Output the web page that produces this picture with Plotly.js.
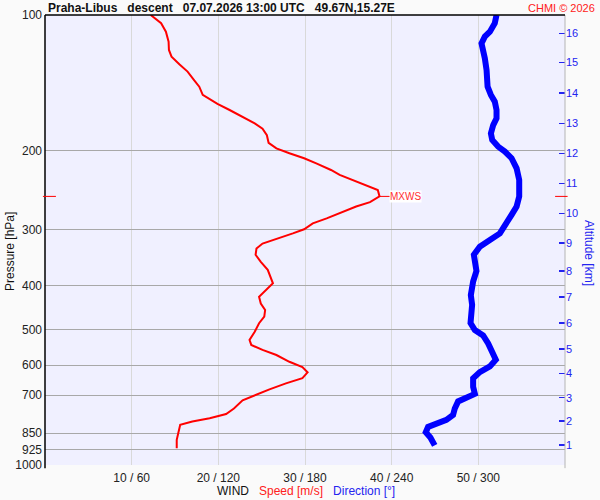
<!DOCTYPE html>
<html>
<head>
<meta charset="utf-8">
<script src="https://cdn.plot.ly/plotly-3.0.1.min.js"></script>
<style>html,body{margin:0;padding:0;background:#fafafa;}</style>
</head>
<body>
<div id="chart" style="width:600px;height:500px;"></div>
<script>
// Wind speed profile [m/s] vs pressure [hPa]
const speedPressure = [100,104.3,108.9,114.6,119.6,123.8,128.7,133.6,139.5,144.3,150.5,153.9,157.6,162.6,168.4,174.2,178.9,185.0,192.3,197.9,202.9,208.1,213.7,221.0,226.7,232.6,238.6,244.8,253.0,260.5,266.4,273.8,283.1,290.5,299.3,305.7,313.8,322.0,330.3,341.1,353.5,368.4,394.6,408.5,422.8,437.8,452.6,467.9,484.1,505.5,527.3,541,555,569.6,589.7,605.8,622.5,641.4,658.6,679.0,698.2,718.3,749.0,770.4,787.1,800.7,814.2,849.5,879.1,917.3];
const speed = [12.2,13.4,13.95,14.26,14.3,14.6,15.5,16.45,17.2,17.8,18.2,18.96,19.9,21.3,22.8,24.2,25.1,25.6,25.8,26.7,28.2,29.9,31.3,33.0,34.0,35.5,37.1,38.4,38.6,37.5,35.9,34.4,32.5,30.9,29.9,28.6,26.7,25.1,24.4,24.3,24.9,25.7,26.3,25.5,24.7,24.9,25.4,25.3,24.7,24.2,23.6,23.8,25.1,26.7,28.2,29.7,30.3,29.7,27.8,25.9,24.4,22.8,21.8,20.9,19.0,17.0,15.6,15.4,15.2,15.2];

// Wind direction profile [deg] vs pressure [hPa]
const dirPressure = [100,104.3,108.9,111.7,115.6,120.6,124.8,132.5,144.3,150.5,155.8,162.6,169.7,175.6,183.2,189.5,196.1,201.2,208.1,219.1,232.6,253.0,266.4,278.0,290.5,305.7,316.2,327.3,341.1,355.4,370.6,391.0,419.3,440.8,459.5,483.7,501.2,515.2,536.9,559.4,583.5,603.9,621.8,641.6,670.3,694.9,711.0,722.2,749.0,774.3,794.0,808.6,823.0,845.4,869.1,904.6];
const direction = [312.6,311.4,308.0,304.5,302.2,302.9,304.5,305.7,306.4,308.7,311.4,312.6,312.6,310.3,308.7,309.6,313.7,318.4,323.0,326.5,328.3,328.3,326.5,323.0,319.5,314.9,308.0,301.0,296.9,297.6,298.7,296.4,294.8,295.7,295.3,294.6,297.6,303.3,306.8,309.1,312.1,308.0,301.0,296.4,296.4,297.6,291.8,286.0,283.7,282.5,277.9,271.0,265.2,263.6,266.8,269.8];

// Axis ticks
const speedTicks = [10,20,30,40,50];
const dirTicks = [60,120,180,240,300];
const pressureTicks = [100,200,300,400,500,600,700,850,925,1000];
const altitudeKm = [1,2,3,4,5,6,7,8,9,10,11,12,13,14,15,16];
const altitudePressure = [902.9,798.4,708.6,626.1,552.4,483.1,423.3,370.7,321.1,276.1,236.6,202.9,174.1,149.0,127.6,109.9];

const titleText = "Praha-Libus\u00a0\u00a0\u00a0descent\u00a0\u00a0\u00a007.07.2026 13:00 UTC\u00a0\u00a0\u00a049.67N,15.27E";

const FONT = "Liberation Sans, Arial, sans-serif";
const BLUE_TXT = "#2424f0";
const RED_TXT = "#ff2020";

// max wind
let iMax = 0;
speed.forEach((v, i) => { if (v > speed[iMax]) iMax = i; });
const maxSpeed = speed[iMax];
const maxP = speedPressure[iMax];

const traces = [
  {x: speed, y: speedPressure, type: 'scatter', mode: 'lines', xaxis: 'x', yaxis: 'y',
   line: {color: '#ff0000', width: 2}, hoverinfo: 'skip'},
  {x: direction, y: dirPressure, type: 'scatter', mode: 'lines', xaxis: 'x2', yaxis: 'y2',
   line: {color: '#0000ff', width: 6}, hoverinfo: 'skip'}
];

const layout = {
  width: 600, height: 500,
  margin: {l: 45, r: 35, t: 15, b: 35, pad: 0},
  paper_bgcolor: '#fafafa',
  plot_bgcolor: '#f0f0ff',
  showlegend: false,
  font: {family: FONT, size: 12, color: '#222'},
  title: {text: titleText, xref: 'container', yref: 'container', x: 48/600, xanchor: 'left',
          y: 1 - 8/500, yanchor: 'middle', font: {family: FONT, size: 12, weight: 'bold', color: '#111'}},
  xaxis: {range: [0, 60], tickvals: speedTicks, ticktext: speedTicks.map((s, i) => s + ' / ' + dirTicks[i]),
          showgrid: true, gridcolor: '#d9d9d9', gridwidth: 1, zeroline: false, showline: false, ticks: '',
          ticklabelstandoff: 4, tickfont: {size: 12, color: '#222'}, fixedrange: true},
  xaxis2: {range: [0, 360], overlaying: 'x', visible: false, fixedrange: true},
  yaxis: {type: 'log', range: [3, 2], tickvals: pressureTicks, ticktext: pressureTicks.map(String),
          showgrid: true, gridcolor: '#a8a8a8', gridwidth: 1, zeroline: false, showline: false, ticks: '',
          ticklabelstandoff: 2, tickfont: {size: 12, color: '#222'}, fixedrange: true},
  yaxis2: {type: 'log', range: [3, 2], overlaying: 'y', side: 'right', tickvals: altitudePressure,
           ticktext: altitudeKm.map(String), ticks: 'inside', ticklen: 6, tickwidth: 1.5, tickcolor: BLUE_TXT,
           showgrid: false, zeroline: false, showline: false, tickfont: {size: 11, color: BLUE_TXT}, fixedrange: true},
  shapes: [
    {type: 'line', xref: 'paper', yref: 'paper', x0: 1, x1: 1, y0: -0.007, y1: 1, line: {color: '#b4b4b4', width: 1}},
    {type: 'line', xref: 'paper', yref: 'paper', x0: 0, x1: 0, y0: -0.007, y1: 1, line: {color: '#000', width: 1.5}},
    {type: 'line', xref: 'paper', yref: 'paper', x0: 0, x1: 1, y0: 1, y1: 1, line: {color: '#000', width: 1.5}},
    {type: 'line', xref: 'paper', yref: 'y', x0: -0.004, x1: 0.021, y0: maxP, y1: maxP, line: {color: '#ff0000', width: 1}},
    {type: 'line', xref: 'paper', yref: 'y', x0: 0.981, x1: 1.005, y0: maxP, y1: maxP, line: {color: '#ff0000', width: 1}}
  ],
  annotations: [
    {x: maxSpeed, y: Math.log10(maxP), xref: 'x', yref: 'y', text: 'MXWS', showarrow: true, arrowhead: 0,
     arrowwidth: 1, arrowcolor: '#ff0000', ax: 26, ay: 0, font: {size: 10, color: '#ff3030'},
     bgcolor: '#ffffff', borderpad: 0},
    {xref: 'paper', yref: 'paper', x: (10 - 45) / 520, y: (465 - 252) / 450, text: 'Pressure [hPa]',
     textangle: -90, showarrow: false, font: {size: 12, color: '#111'}, xanchor: 'center', yanchor: 'middle'},
    {xref: 'paper', yref: 'paper', x: (589 - 45) / 520, y: (465 - 253) / 450, text: 'Altitude [km]',
     textangle: 90, showarrow: false, font: {size: 12, color: BLUE_TXT}, xanchor: 'center', yanchor: 'middle'},
    {xref: 'paper', yref: 'paper', x: (306 - 45) / 520, y: (465 - 491) / 450,
     text: 'WIND\u00a0\u00a0\u00a0<span style="color:' + RED_TXT + '">Speed [m/s]</span>\u00a0\u00a0\u00a0<span style="color:' + BLUE_TXT + '">Direction [°]</span>',
     showarrow: false, font: {size: 12, color: '#111'}, xanchor: 'center', yanchor: 'middle'},
    {xref: 'paper', yref: 'paper', x: (597 - 45) / 520, y: (465 - 8) / 450, text: 'CHMI © 2026',
     showarrow: false, font: {size: 11, color: RED_TXT}, xanchor: 'right', yanchor: 'middle'}
  ]
};

Plotly.newPlot('chart', traces, layout, {staticPlot: true, displayModeBar: false});
</script>
</body>
</html>
